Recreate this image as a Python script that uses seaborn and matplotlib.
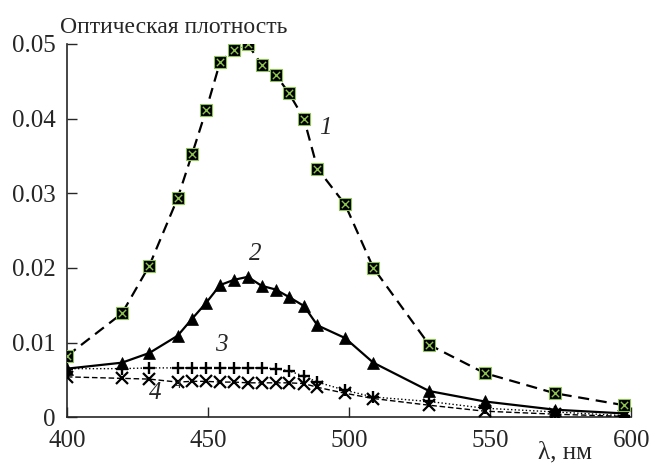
import seaborn as sns
import matplotlib.pyplot as plt
import pandas as pd

sns.set_style("ticks")
plt.rcParams['font.family'] = ['Liberation Serif', 'DejaVu Serif']

# wavelengths (nm)
wl = [400, 419.5, 429.2, 439.2, 444.4, 449.3, 454.3, 459.2, 464.1, 469, 474,
      478.7, 484, 488.8, 498.6, 508.6, 528.4, 548.1, 573, 597.5]

# curve 1 (squares)
od1 = [0.0082, 0.0139, 0.0203, 0.0293, 0.0353, 0.0411, 0.0476, 0.0492, 0.0500,
       0.0472, 0.0459, 0.0434, 0.0400, 0.0333, 0.0285, 0.0200, 0.0097, 0.0059,
       0.0032, 0.0016]
# curve 2 (triangles)
od2 = [0.0065, 0.0073, 0.0086, 0.0109, 0.0132, 0.0153, 0.0177, 0.0184, 0.0188,
       0.0176, 0.0171, 0.0161, 0.0149, 0.0123, 0.0106, 0.0073, 0.0035, 0.0021,
       0.0010, 0.0005]
# curve 3 (plus)
od3 = [0.0065, 0.0065, 0.0066, 0.0066, 0.0066, 0.0066, 0.0066, 0.0066, 0.0066,
       0.0066, 0.0065, 0.0062, 0.0055, 0.0047, 0.0036, 0.0027, 0.0021, 0.0012,
       0.0007, 0.0002]
# curve 4 (crosses)
od4 = [0.0054, 0.0052, 0.0051, 0.0047, 0.0048, 0.0048, 0.0047, 0.0047, 0.0046,
       0.0046, 0.0046, 0.0046, 0.0045, 0.0040, 0.0032, 0.0025, 0.0016, 0.0008,
       0.0004, 0.0001]

df = pd.DataFrame({"wl": wl, "c1": od1, "c2": od2, "c3": od3, "c4": od4})

fig = plt.figure(figsize=(6.5, 4.63), dpi=100)
ax = fig.add_axes([0.103, 0.099, 0.868, 0.806])

green = '#8cc34f'
sns.lineplot(data=df, x="wl", y="c4", ax=ax, color='black', lw=1.0,
             linestyle=(0, (4, 2)), marker='x', markersize=8, mec='black',
             mew=1.6, zorder=3)
sns.lineplot(data=df, x="wl", y="c3", ax=ax, color='black', lw=1.0,
             linestyle=':', marker='+', markersize=9, mec='black',
             mew=1.7, zorder=3)
sns.lineplot(data=df, x="wl", y="c2", ax=ax, color='black', lw=1.6,
             marker='^', markersize=9, mec='black', mew=0.5, zorder=4)
sns.lineplot(data=df, x="wl", y="c1", ax=ax, color='black', lw=1.6,
             linestyle=(0, (5, 3)), marker='s', markersize=8.5, mfc='black',
             mec=green, mew=0.8, zorder=5)
sns.scatterplot(data=df, x="wl", y="c1", ax=ax, marker='x', color=green,
                s=28, linewidth=1.0, zorder=6)

ax.set_xlim(400, 600)
ax.set_ylim(0, 0.05)
ax.set_xticks([400, 450, 500, 550, 600])
ax.set_yticks([0, 0.01, 0.02, 0.03, 0.04, 0.05])
ax.set_yticklabels(['0', '0.01', '0.02', '0.03', '0.04', '0.05'])
ax.tick_params(axis='both', direction='in', labelsize=18, length=7, width=1)
ax.tick_params(axis='y', pad=8)
ax.tick_params(axis='x', pad=9)
sns.despine(ax=ax)
for s in ['left', 'bottom']:
    ax.spines[s].set_linewidth(1.2)
ax.set_xlabel('')
ax.set_ylabel('')

fig.text(0.092, 1 - 33 / 463, 'Оптическая плотность', fontsize=17,
         va='baseline', ha='left')
fig.text(592 / 650, 0.0, 'λ, нм', fontsize=18, va='bottom', ha='right')

ax.text(491.5, 0.0388, '1', fontsize=18, style='italic', ha='center', va='center')
ax.text(466.7, 0.0219, '2', fontsize=18, style='italic', ha='center', va='center')
ax.text(454.6, 0.0097, '3', fontsize=18, style='italic', ha='center', va='center')
ax.text(431.2, 0.0032, '4', fontsize=18, style='italic', ha='center', va='center')
ax.text(439.4, 0.0043, '4', fontsize=9, ha='center', va='center')

fig.savefig('out.png', dpi=100)
